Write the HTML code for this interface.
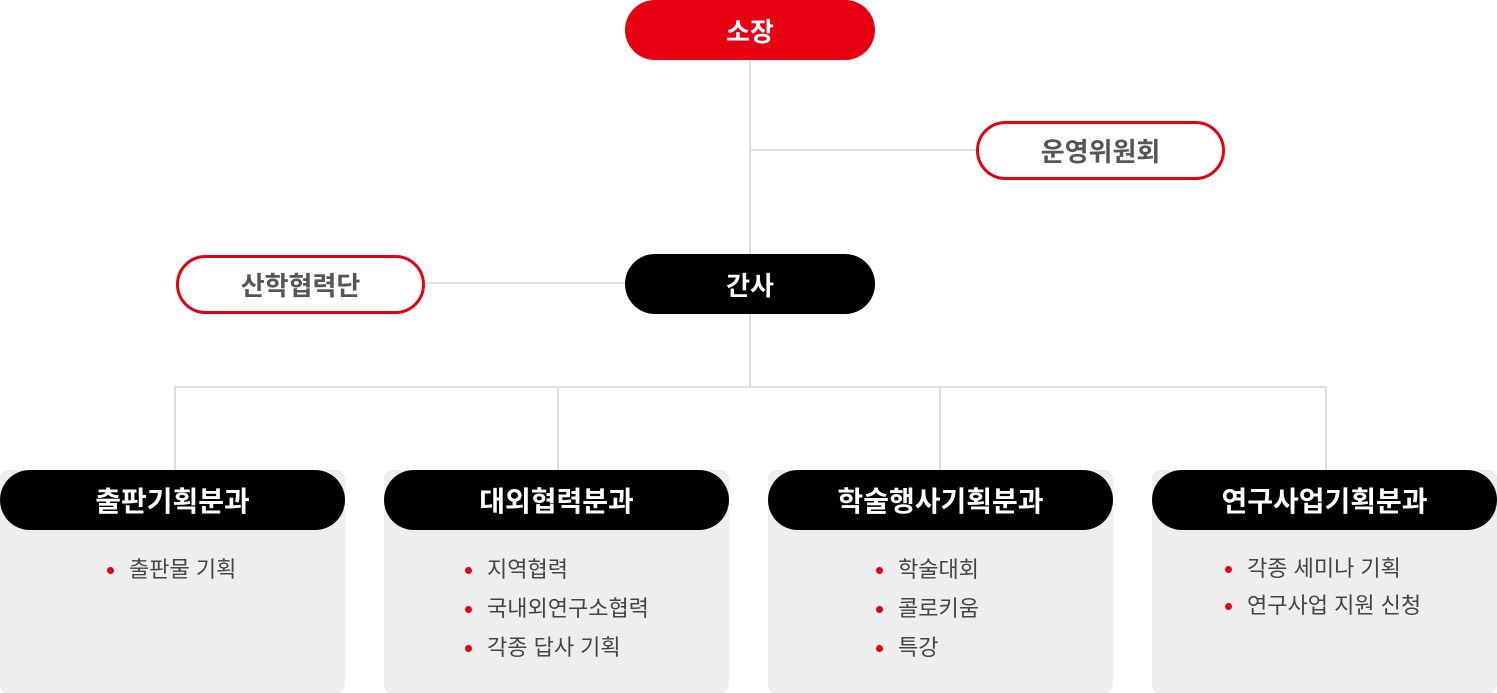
<!DOCTYPE html>
<html><head><meta charset="utf-8"><style>
body{margin:0;width:1497px;height:693px;background:#fff;position:relative;overflow:hidden;font-family:"Liberation Sans","Noto Sans CJK KR",sans-serif}
.pill{position:absolute;box-sizing:border-box;border-radius:30px;display:flex;align-items:center;justify-content:center;font-weight:bold;font-size:26px}
.ln{position:absolute;background:#ddd}
.box{position:absolute;top:470px;width:345px;height:223px;background:#eee;border-radius:8px}
.hd{position:absolute;left:0;top:0;width:345px;height:60px;background:#000;color:#fff;border-radius:30px;display:flex;align-items:center;justify-content:center;font-weight:bold;font-size:28px}
.it{position:absolute;font-size:22px;color:#444;white-space:nowrap;line-height:26px}
.it:before{content:"";position:absolute;left:-22px;top:10px;width:7px;height:7px;border-radius:50%;background:#e60012}
</style></head><body>
<div class="ln" style="left:749px;top:60px;width:2px;height:327px"></div>
<div class="ln" style="left:750px;top:149px;width:226px;height:2px"></div>
<div class="ln" style="left:424px;top:282px;width:201px;height:2px"></div>
<div class="ln" style="left:174px;top:386px;width:1153px;height:2px"></div>
<div class="ln" style="left:174px;top:386px;width:2px;height:84px"></div>
<div class="ln" style="left:557px;top:386px;width:2px;height:84px"></div>
<div class="ln" style="left:939px;top:386px;width:2px;height:84px"></div>
<div class="ln" style="left:1325px;top:386px;width:2px;height:84px"></div>
<div class="pill" style="left:625px;top:0;width:250px;height:60px;background:#e60012;color:#fff">소장</div>
<div class="pill" style="left:976px;top:121px;width:249px;height:59px;border:3px solid #e60012;background:#fff;color:#555">운영위원회</div>
<div class="pill" style="left:625px;top:254px;width:250px;height:60px;background:#000;color:#fff">간사</div>
<div class="pill" style="left:176px;top:255px;width:249px;height:59px;border:3px solid #e60012;background:#fff;color:#555">산학협력단</div>
<div class="box" style="left:0"><div class="hd">출판기획분과</div>
<div class="it" style="left:129px;top:87px">출판물 기획</div></div>
<div class="box" style="left:384px"><div class="hd">대외협력분과</div>
<div class="it" style="left:103px;top:87px">지역협력</div>
<div class="it" style="left:103px;top:126px">국내외연구소협력</div>
<div class="it" style="left:103px;top:165px">각종 답사 기획</div></div>
<div class="box" style="left:768px"><div class="hd">학술행사기획분과</div>
<div class="it" style="left:130px;top:87px">학술대회</div>
<div class="it" style="left:130px;top:126px">콜로키움</div>
<div class="it" style="left:130px;top:165px">특강</div></div>
<div class="box" style="left:1152px"><div class="hd">연구사업기획분과</div>
<div class="it" style="left:95px;top:86px">각종 세미나 기획</div>
<div class="it" style="left:95px;top:123px">연구사업 지원 신청</div></div>
</body></html>
